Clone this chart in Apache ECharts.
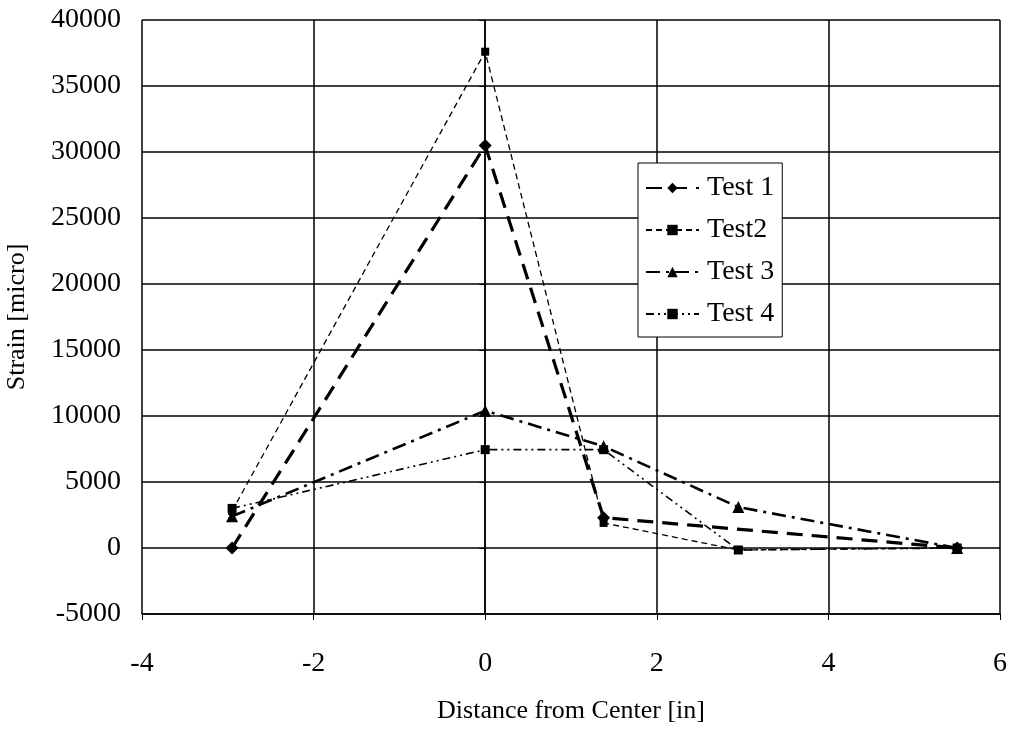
<!DOCTYPE html>
<html>
<head>
<meta charset="utf-8">
<script src="https://cdn.jsdelivr.net/npm/echarts@6/dist/echarts.min.js"></script>
<style>
  html, body { margin: 0; padding: 0; background: #fff; }
  #main { width: 1015px; height: 729px; }
</style>
</head>
<body>
<div id="main"></div>
<script>
// distance from center [in]
var xTest1 = [-2.95, 0, 1.38, 5.5];
var yTest1 = [0, 30500, 2300, 0];

var xPos = [-2.95, 0, 1.38, 2.95, 5.5];
var yTest2 = [2800, 37600, 1900, -150, 0];
var yTest3 = [2400, 10400, 7700, 3100, 0];
var yTest4 = [3000, 7450, 7450, -150, 0];

var seriesNames = ['Test 1', 'Test2', 'Test 3', 'Test 4'];

function pairs(xs, ys) {
    var out = [];
    for (var i = 0; i < xs.length; i++) out.push([xs[i], ys[i]]);
    return out;
}

var font = 'Liberation Serif, Times New Roman, serif';
var myChart = echarts.init(document.getElementById('main'));

var option = {
    backgroundColor: '#fff',
    animation: false,
    grid: {
        left: 142,
        right: 15,
        top: 20,
        bottom: 115,
        outerBoundsMode: 'none'
    },
    legend: {
        orient: 'vertical',
        left: 638,
        top: 163,
        padding: [11, 8, 9, 7],
        itemGap: 14,
        itemWidth: 53,
        itemHeight: 13,
        backgroundColor: '#fff',
        borderColor: '#000',
        borderWidth: 1,
        data: seriesNames,
        textStyle: {
            fontFamily: font,
            fontSize: 28,
            color: '#000',
            padding: [0, 0, 0, 3]
        }
    },
    xAxis: {
        type: 'value',
        min: -4,
        max: 6,
        interval: 2,
        name: 'Distance from Center [in]',
        nameLocation: 'middle',
        nameGap: 84,
        nameTextStyle: { fontFamily: font, fontSize: 26, color: '#000' },
        axisLine: { onZero: false, lineStyle: { color: '#000', width: 1.5 } },
        axisTick: { show: true, inside: false, length: 6, lineStyle: { color: '#000' } },
        axisLabel: { margin: 36, fontFamily: font, fontSize: 28, color: '#000' },
        splitLine: { show: true, lineStyle: { color: '#000', width: 1.5 } }
    },
    yAxis: {
        type: 'value',
        min: -5000,
        max: 40000,
        interval: 5000,
        name: 'Strain [micro]',
        nameLocation: 'middle',
        nameRotate: 90,
        nameGap: 112,
        nameTextStyle: { fontFamily: font, fontSize: 26, color: '#000' },
        axisLine: { show: true, lineStyle: { color: '#000', width: 1.5 } },
        axisTick: { show: true, inside: false, length: 6, lineStyle: { color: '#000' } },
        axisLabel: {
            margin: 21,
            fontFamily: font,
            fontSize: 28,
            color: '#000',
            formatter: function (v) { return String(v); }
        },
        splitLine: { show: true, lineStyle: { color: '#000', width: 1.5 } }
    },
    series: [
        {
            name: 'Test 1',
            type: 'line',
            data: pairs(xTest1, yTest1),
            symbol: 'diamond',
            symbolSize: 13,
            itemStyle: { color: '#000' },
            lineStyle: { color: '#000', width: 3.2, type: [16, 9] },
            z: 5
        },
        {
            name: 'Test2',
            type: 'line',
            data: pairs(xPos, yTest2),
            symbol: 'rect',
            symbolSize: 8,
            itemStyle: { color: '#000' },
            lineStyle: { color: '#000', width: 1.3, type: [6, 4] },
            z: 4
        },
        {
            name: 'Test 3',
            type: 'line',
            data: pairs(xPos, yTest3),
            symbol: 'triangle',
            symbolSize: 12,
            itemStyle: { color: '#000' },
            lineStyle: { color: '#000', width: 2.6, type: [14, 6, 3, 6] },
            z: 3
        },
        {
            name: 'Test 4',
            type: 'line',
            data: pairs(xPos, yTest4),
            symbol: 'rect',
            symbolSize: 9,
            itemStyle: { color: '#000' },
            lineStyle: { color: '#000', width: 1.6, type: [8, 4, 2, 4, 2, 4] },
            z: 2
        }
    ]
};

myChart.setOption(option);
</script>
</body>
</html>
